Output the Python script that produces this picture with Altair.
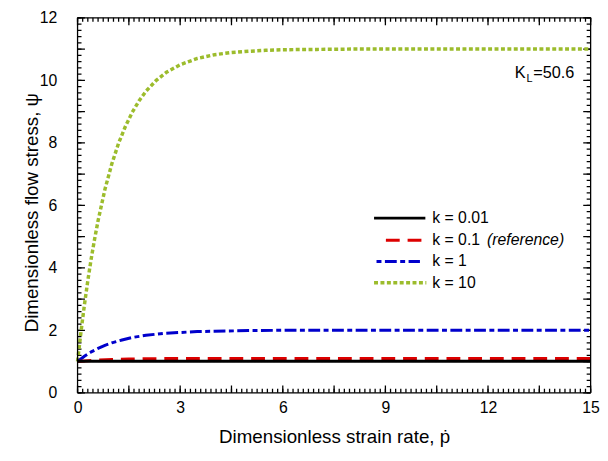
import altair as alt
import pandas as pd

# ---- data ----
k10_x = [0, 0.1, 0.2, 0.3, 0.4, 0.5, 0.6, 0.8, 1.0, 1.2, 1.4, 1.6, 1.8, 2.0, 2.3, 2.6, 3.0, 3.5, 4.0, 4.5, 5.0, 5.5, 6.0, 7.0, 8.0, 15.0]
k10_y = [1.0, 1.95, 2.81, 3.59, 4.30, 4.93, 5.51, 6.51, 7.32, 7.99, 8.53, 8.98, 9.35, 9.65, 10.0, 10.26, 10.5, 10.7, 10.82, 10.89, 10.93, 10.96, 10.98, 10.99, 11.0, 11.0]
k1_x = [0, 0.2, 0.4, 0.6, 0.8, 1.0, 1.3, 1.6, 2.0, 2.5, 3.0, 3.5, 4.0, 5.0, 6.0, 15.0]
k1_y = [1.0, 1.17, 1.31, 1.42, 1.52, 1.60, 1.69, 1.77, 1.84, 1.90, 1.93, 1.96, 1.97, 1.99, 2.0, 2.0]
k01_x = [0, 0.5, 1.0, 1.5, 2.0, 3.0, 4.0, 15.0]
k01_y = [1.0, 1.04, 1.065, 1.08, 1.09, 1.1, 1.1, 1.1]
k001_x = [0, 15]
k001_y = [1.01, 1.01]

legend_labels = ["k = 0.01", "k = 0.1", "k = 1", "k = 10"]
legend_note = "(reference)"
annotation_main = "K"
annotation_sub = "L"
annotation_rest = "=50.6"

x_labels = [0, 3, 6, 9, 12, 15]
y_labels = [0, 2, 4, 6, 8, 10, 12]
x_major = [0, 1.5, 3, 4.5, 6, 7.5, 9, 10.5, 12, 13.5, 15]
x_minor = [round(0.15 * i, 2) for i in range(101)]
y_major = list(range(13))
y_minor = [round(0.2 * i, 1) for i in range(61)]

W, H = 520, 380
XMAX, YMAX = 15, 12
FONT = "Liberation Sans"

BLACK = "#000000"
RED = "#dd0000"
BLUE = "#0000cc"
GREEN = "#9cbc2c"

xscale = alt.Scale(domain=[0, XMAX], nice=False, zero=False)
yscale = alt.Scale(domain=[0, YMAX], nice=False, zero=False)

axis_style = dict(labelFont=FONT, titleFont=FONT, labelFontSize=16, titleFontSize=19,
                  titleFontWeight="normal", labelColor="black", titleColor="black")

x_axis_main = alt.Axis(
    values=x_labels, ticks=False, domain=False, grid=False,
    labelFlush=False, labelOverlap=False, labelPadding=7,
    title="Dimensionless strain rate, ṗ", titleY=50, titleBaseline="alphabetic",
    **axis_style,
)
y_axis_main = alt.Axis(
    values=y_labels, ticks=False, domain=False, grid=False,
    labelOverlap=False, labelPadding=21,
    title="Dimensionless flow stress, ψ", titleX=-40.5, titleY=197,
    titleBaseline="alphabetic",
    **axis_style,
)


def enc_xy(ch):
    return ch.encode(x=alt.X("x:Q", scale=xscale, axis=x_axis_main),
                     y=alt.Y("y:Q", scale=yscale, axis=y_axis_main))


def curve(xs, ys, color, dash, width=3):
    df = pd.DataFrame({"x": xs, "y": ys})
    return enc_xy(alt.Chart(df).mark_line(
        color=color, strokeDash=dash, strokeWidth=width, strokeCap="butt"))


px_x = W / XMAX
px_y = H / YMAX


def tick_segments(xvals, yvals, major_px, minor_px):
    rows = []
    tid = 0
    for vals, L in ((xvals[0], minor_px), (xvals[1], major_px)):
        ly = L / px_y
        for v in vals:
            rows += [(float(v), 0.0, tid), (float(v), ly, tid)]
            tid += 1
            rows += [(float(v), float(YMAX), tid), (float(v), YMAX - ly, tid)]
            tid += 1
    for vals, L in ((yvals[0], minor_px), (yvals[1], major_px)):
        lx = L / px_x
        for v in vals:
            rows += [(0.0, float(v), tid), (lx, float(v), tid)]
            tid += 1
            rows += [(float(XMAX), float(v), tid), (XMAX - lx, float(v), tid)]
            tid += 1
    return pd.DataFrame(rows, columns=["x", "y", "id"])


tick_df = tick_segments((x_minor, x_major), (y_minor, y_major), 7.5, 4)
ticks = enc_xy(alt.Chart(tick_df).mark_line(
    color=BLACK, strokeDash=[1, 0], strokeWidth=1.3, strokeCap="butt", opacity=1
)).encode(detail="id:N")

one = pd.DataFrame({"a": [0]})


def frame_h(y):
    return alt.Chart(one).mark_rule(color=BLACK, strokeWidth=1.3).encode(
        x=alt.value(0), x2=alt.value(W), y=alt.value(y))


def frame_v(x):
    return alt.Chart(one).mark_rule(color=BLACK, strokeWidth=1.3).encode(
        y=alt.value(0), y2=alt.value(H), x=alt.value(x))


def leg_line(x1, x2, y, color, dash, width=3):
    return alt.Chart(one).mark_rule(
        color=color, strokeDash=dash, strokeWidth=width, strokeCap="butt"
    ).encode(x=alt.value(x1), x2=alt.value(x2), y=alt.value(y))


def txt(text, x, y, size=16, style="normal", align="left", baseline="middle"):
    return alt.Chart(one).mark_text(
        text=text, font=FONT, fontSize=size, fontStyle=style, align=align,
        baseline=baseline, color="black"
    ).encode(x=alt.value(x), y=alt.value(y))


rows_y = [203, 225.5, 247, 268.5]
lx1, lx2, tx = 300.5, 352.5, 359.5

chart = alt.layer(
    ticks,
    curve(k10_x, k10_y, GREEN, [4, 2.5], 3.5),
    curve(k1_x, k1_y, BLUE, [12, 3.5, 5, 3.5]),
    curve(k01_x, k01_y, RED, [14, 8]),
    curve(k001_x, k001_y, BLACK, [1, 0]),
    frame_h(0), frame_h(H), frame_v(0), frame_v(W),
    leg_line(lx1, lx2, rows_y[0], BLACK, [1, 0]),
    leg_line(312.5, 349.5, rows_y[1], RED, [14, 8]),
    leg_line(303, 347, rows_y[2], BLUE, [5, 3.5, 12, 3.5]),
    leg_line(lx1, lx2 + 1, rows_y[3], GREEN, [4, 2.5], 3.5),
    txt(legend_labels[0], tx, rows_y[0]),
    txt(legend_labels[1], tx, rows_y[1]),
    txt(legend_note, 415, rows_y[1], style="italic"),
    txt(legend_labels[2], tx, rows_y[2]),
    txt(legend_labels[3], tx, rows_y[3]),
    txt(annotation_rest, 503.5, 61, size=16.5, align="right", baseline="alphabetic"),
    txt(annotation_sub, 461, 65, size=11, align="right", baseline="alphabetic"),
    txt(annotation_main, 454, 61, size=16.5, align="right", baseline="alphabetic"),
).properties(
    width=W, height=H,
    autosize=alt.AutoSizeParams(type="none"),
    padding={"left": 70.5, "top": 7, "right": 9.5, "bottom": 54},
).configure_view(
    strokeWidth=0
)

chart.save("out.html", embed_options={"renderer": "svg", "actions": False})
